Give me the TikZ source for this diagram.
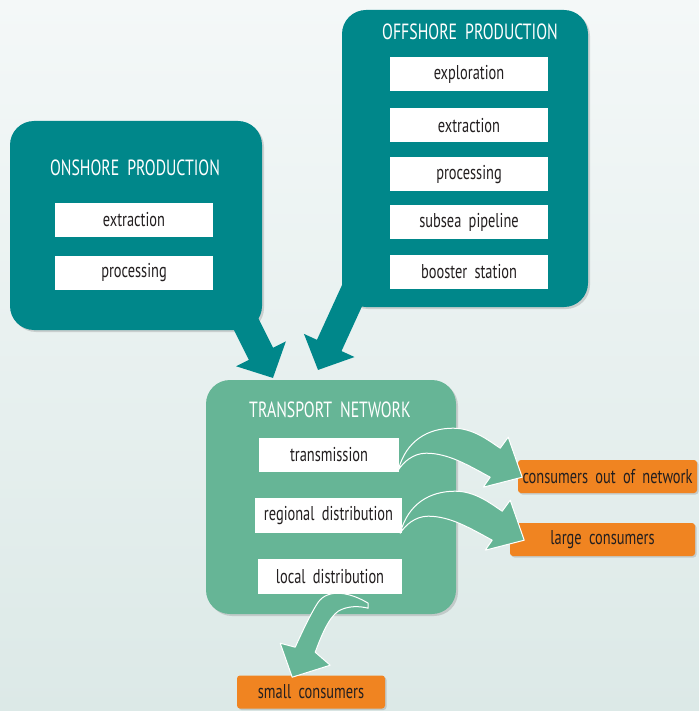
\documentclass[tikz,border=0pt]{standalone}
\usepackage{fontspec}
\setmainfont{PT Sans}[FakeStretch=0.72, WordSpace=1.9]
\usetikzlibrary{shadows,arrows.meta}
\definecolor{prodteal}{HTML}{00878A}
\definecolor{netgreen}{HTML}{66B596}
\definecolor{sinkorange}{HTML}{F08421}
\definecolor{ink}{HTML}{231F20}
\definecolor{bgtop}{HTML}{F4F8F8}
\definecolor{bgbottom}{HTML}{DCE9E7}

\begin{document}
\begin{tikzpicture}[x=1pt, y=-1pt,
  every node/.style = {inner sep=0pt, align=center},
  panel/.style = {rounded corners=24pt,
    drop shadow={shadow xshift=2pt, shadow yshift=-2pt, opacity=.3}},
  heading/.style = {text=white, font=\fontsize{22}{24}\selectfont},
  task/.style = {fill=white, text=ink, minimum height=34pt,
    font=\fontsize{20}{22}\selectfont},
  sink/.style = {fill=sinkorange, text=ink, rounded corners=3pt,
    minimum height=33pt, font=\fontsize{20}{22}\selectfont,
    drop shadow={shadow xshift=1.5pt, shadow yshift=-1.5pt, opacity=.3}},
  feed/.style = {draw=prodteal, line width=27pt,
    -{Triangle[length=27pt, width=54pt]}},
  flow/.style = {fill=netgreen, draw=white, line width=1pt, line join=round},
  pics/bend/.style = {code={
    \filldraw[flow] (0,0) .. controls (8,-30) and (30,-42) .. (55,-42)
      .. controls (75,-42) and (90,-30) .. (102,-22) -- (110,-33) -- (124,7)
      -- (85,17) -- (92,7) .. controls (70,-5) and (50,-17) .. (28,-17)
      .. controls (15,-17) and (5,-8) .. (0,0) -- cycle;}}]

  \shade[top color=bgtop, bottom color=bgbottom] (0,0) rectangle (699,711);

  \node[panel, fill=prodteal, minimum width=252pt, minimum height=209pt] (onshore) at (136,225.5) {};
  \node[heading] (onshoretitle) at (135,168) {ONSHORE PRODUCTION};
  \node[task, minimum width=158pt] (onextract) at (134,220) {extraction};
  \node[task, minimum width=158pt] (onprocess) at (134,273) {processing};

  \node[panel, fill=prodteal, minimum width=246pt, minimum height=297pt] (offshore) at (465,158.5) {};
  \node[heading] (offshoretitle) at (470,32) {OFFSHORE PRODUCTION};
  \node[task, minimum width=158pt] (explore) at (469,74) {exploration};
  \node[task, minimum width=158pt] (offextract) at (469,125.5) {extraction};
  \node[task, minimum width=158pt] (offprocess) at (469,174.5) {processing};
  \node[task, minimum width=158pt] (subsea) at (469,222) {subsea pipeline};
  \node[task, minimum width=158pt] (booster) at (469,272) {booster station};

  \coordinate (ontip) at (273,378);
  \coordinate (offtip) at (318,370);
  \draw[feed] ([shift={(-22,-18)}]onshore.south east) -- (ontip);
  \draw[feed] ([shift={(15,-22)}]offshore.south west) -- (offtip);

  \node[panel, fill=netgreen, minimum width=250pt, minimum height=234pt] (network) at (331,497) {};
  \node[heading] (networktitle) at (330,410) {TRANSPORT NETWORK};
  \node[task, minimum width=140pt] (transmission) at (329,455) {transmission};
  \node[task, minimum width=147pt, minimum height=35pt] (regional) at (328.5,515.5) {regional distribution};
  \node[task, minimum width=144pt, minimum height=35pt] (local) at (330,576.5) {local distribution};

  \node[sink, minimum width=179pt] (outnet) at (607.5,476.5) {consumers out of network};
  \node[sink, minimum width=185pt] (large) at (602.5,539.5) {large consumers};
  \node[sink, minimum width=148pt] (small) at (311,692) {small consumers};

  \pic at ([xshift=-1pt, yshift=2pt]transmission.south east) {bend};
  \pic at ([xshift=-2pt]regional.south east) {bend};
  \filldraw[flow] ([xshift=-34pt, yshift=-12pt]local.south east)
    ++(0,-3) .. controls ++(-18,-11) and ++(10,-14) .. ++(-50,-1)
    .. controls ++(-8,12) and ++(5,-11) .. ++(-23,45) -- ++(-15,-4) -- ++(12,34)
    -- ++(38,-12) -- ++(-15,-13) .. controls ++(6,-16) and ++(-10,7) .. ++(23,-41)
    .. controls ++(10,-6) and ++(-8,-2) .. ++(30,-3) -- cycle;
\end{tikzpicture}
\end{document}
